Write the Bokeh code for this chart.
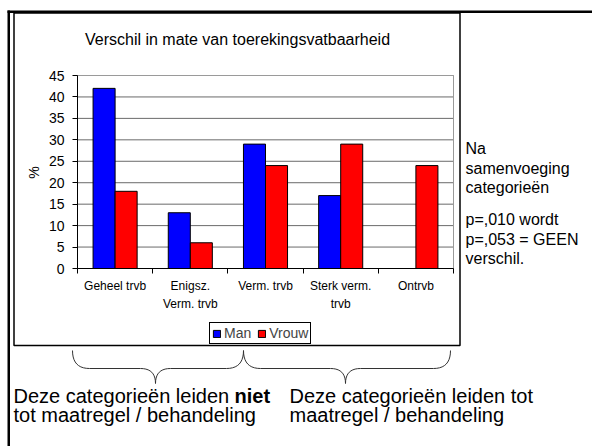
import math
from bokeh.plotting import figure
from bokeh.models import (Range1d, FixedTicker, LinearAxis, Legend, LegendItem, ColumnDataSource)
from bokeh.core.properties import value
from bokeh.transform import dodge
from bokeh.embed import file_html
from bokeh.resources import INLINE

# ---------------- data ----------------
title_text = "Verschil in mate van toerekingsvatbaarheid"
categories = ["Geheel trvb", "Enigsz.\nVerm. trvb", "Verm. trvb", "Sterk verm.\ntrvb", "Ontrvb"]
man = [42, 13, 29, 17, 0]
vrouw = [18, 6, 24, 29, 24]
y_ticks = [0, 5, 10, 15, 20, 25, 30, 35, 40, 45]
series_names = ["Man", "Vrouw"]
series_colors = ["#0000FF", "#FF0000"]
y_axis_title = "%"
note_lines_1 = ["Na", "samenvoeging", "categorieën"]
note_lines_2 = ["p=,010 wordt", "p=,053 = GEEN", "verschil."]
bottom_left_1 = "Deze categorieën leiden"
bottom_left_bold = "niet"
bottom_left_2 = "tot maatregel / behandeling"
bottom_right = ["Deze categorieën leiden tot", "maatregel / behandeling"]

# ---------------- layout (page pixels) ----------------
W, H = 592, 446
FL, FR, FT, FB = 77, 453, 75, 268   # plot area
FONT = "Liberation Sans"
n = len(categories)

p = figure(width=W, height=H, x_range=Range1d(0, W), y_range=Range1d(H, 0),
           output_backend="svg", toolbar_location=None,
           x_axis_type=None, y_axis_type=None, min_border=0,
           background_fill_color="white", border_fill_color="white")
p.min_border_left = p.min_border_right = p.min_border_top = p.min_border_bottom = 0
p.outline_line_color = None

# scales for the chart inside the page
px_cat = (FR - FL) / n
px_pct = (FB - FT) / y_ticks[-1]
p.extra_x_ranges["cat"] = Range1d(-FL / px_cat, (W - FL) / px_cat)
p.extra_y_ranges["pct"] = Range1d((FB - H) / px_pct, FB / px_pct)
CR = dict(x_range_name="cat", y_range_name="pct")

# gridlines and plot-area border
p.segment(x0=0, x1=n, y0=y_ticks, y1=y_ticks, line_color="#6a6a6a", line_width=1, **CR)
p.quad(left=0, right=n, bottom=0, top=y_ticks[-1], fill_color=None, line_color="#9a9a9a",
       line_width=1, **CR)

src = ColumnDataSource(dict(x=[i + 0.5 for i in range(n)], man=man, vrouw=vrouw))
bw = 0.293
r_man = p.vbar(x=dodge("x", -bw / 2), top="man", width=bw, source=src,
               fill_color=series_colors[0], line_color="black", line_width=1, **CR)
r_vrouw = p.vbar(x=dodge("x", bw / 2), top="vrouw", width=bw, source=src,
                 fill_color=series_colors[1], line_color="black", line_width=1, **CR)

yaxis = LinearAxis(y_range_name="pct", fixed_location=FL, bounds=(0, y_ticks[-1]),
                   ticker=FixedTicker(ticks=y_ticks), major_tick_out=5, major_tick_in=0,
                   minor_tick_out=0, minor_tick_in=0, axis_line_color="black",
                   major_tick_line_color="black",
                   major_label_text_font=FONT, major_label_text_font_size="14px",
                   major_label_text_color="black", major_label_standoff=8)
p.add_layout(yaxis, "left")

xaxis = LinearAxis(x_range_name="cat", fixed_location=FB, bounds=(0, n),
                   ticker=FixedTicker(ticks=[i + 0.5 for i in range(n)], minor_ticks=list(range(n + 1))),
                   major_tick_out=0, major_tick_in=0, minor_tick_out=5, minor_tick_in=0,
                   minor_tick_line_color="black", axis_line_color="black",
                   major_label_overrides={i + 0.5: c for i, c in enumerate(categories)},
                   major_label_text_font=FONT, major_label_text_font_size="12px",
                   major_label_text_color="black", major_label_standoff=5,
                   major_label_text_line_height=1.3)
p.add_layout(xaxis, "below")

legend = Legend(items=[LegendItem(label=series_names[0], renderers=[r_man]),
                       LegendItem(label=series_names[1], renderers=[r_vrouw])],
                location=(209, H - 344), orientation="horizontal",
                glyph_width=9, glyph_height=9, label_standoff=3, spacing=6, padding=2, margin=0,
                border_line_color="black", border_line_width=1, border_line_alpha=1,
                label_text_font=FONT, label_text_font_size="14px", label_height=9,
                background_fill_color="white", background_fill_alpha=1)
p.add_layout(legend)

# slide frame and chart box
p.quad(left=[7, 7], right=[9.5, W], top=[10, 10], bottom=[H, 12.5],
       fill_color="black", line_color=None)
p.quad(left=13.5, right=459.5, top=12.5, bottom=345, fill_color=None,
       line_color="black", line_width=1.5)

# title and axis title
p.text(x=[237], y=[39], text=[title_text], text_align="center", text_baseline="middle",
       text_font=value(FONT), text_font_size="16px", text_color="black")
p.text(x=[33], y=[172], text=[y_axis_title], angle=math.pi / 2, text_align="center",
       text_baseline="middle", text_font=value(FONT), text_font_size="14px", text_color="black")

# right note
note_y = [148 + i * 19.5 for i in range(len(note_lines_1))] + \
         [219 + i * 19.5 for i in range(len(note_lines_2))]
p.text(x=[465] * len(note_y), y=note_y, text=note_lines_1 + note_lines_2, text_align="left",
       text_baseline="middle", text_font=value(FONT), text_font_size="16px", text_color="black")

# bottom texts
BT = "20px"
p.text(x=[13, 13, 289, 289], y=[395, 414, 395, 414],
       text=[bottom_left_1, bottom_left_2] + bottom_right, text_align="left",
       text_baseline="middle", text_font=value(FONT), text_font_size=BT, text_color="black")
p.text(x=[234], y=[395], text=[bottom_left_bold], text_align="left", text_baseline="middle",
       text_font=value(FONT), text_font_size=BT, text_font_style="bold", text_color="black")


# braces
def qbez(a, c, b, k=10):
    out = []
    for j in range(1, k + 1):
        t = j / k
        out.append(((1 - t) ** 2 * a[0] + 2 * (1 - t) * t * c[0] + t * t * b[0],
                    (1 - t) ** 2 * a[1] + 2 * (1 - t) * t * c[1] + t * t * b[1]))
    return out


def brace(x0, x1, xt, ytop=350, ymid=368, ytip=383, re=17, rt=15):
    pts = [(x0, ytop)]
    pts += qbez((x0, ytop), (x0, ymid), (x0 + re, ymid))
    pts += [(xt - rt, ymid)]
    pts += qbez((xt - rt, ymid), (xt, ymid), (xt, ytip))
    pts += qbez((xt, ytip), (xt, ymid), (xt + rt, ymid))
    pts += [(x1 - re, ymid)]
    pts += qbez((x1 - re, ymid), (x1, ymid), (x1, ytop))
    return [a for a, _ in pts], [b for _, b in pts]


bx, by = [], []
for x0, x1, xt in ((72, 243, 155), (243, 450, 345)):
    a, b = brace(x0, x1, xt)
    bx.append(a)
    by.append(b)
p.multi_line(xs=bx, ys=by, line_color="#333333", line_width=1)

open("out.html", "w").write(file_html(p, INLINE))
